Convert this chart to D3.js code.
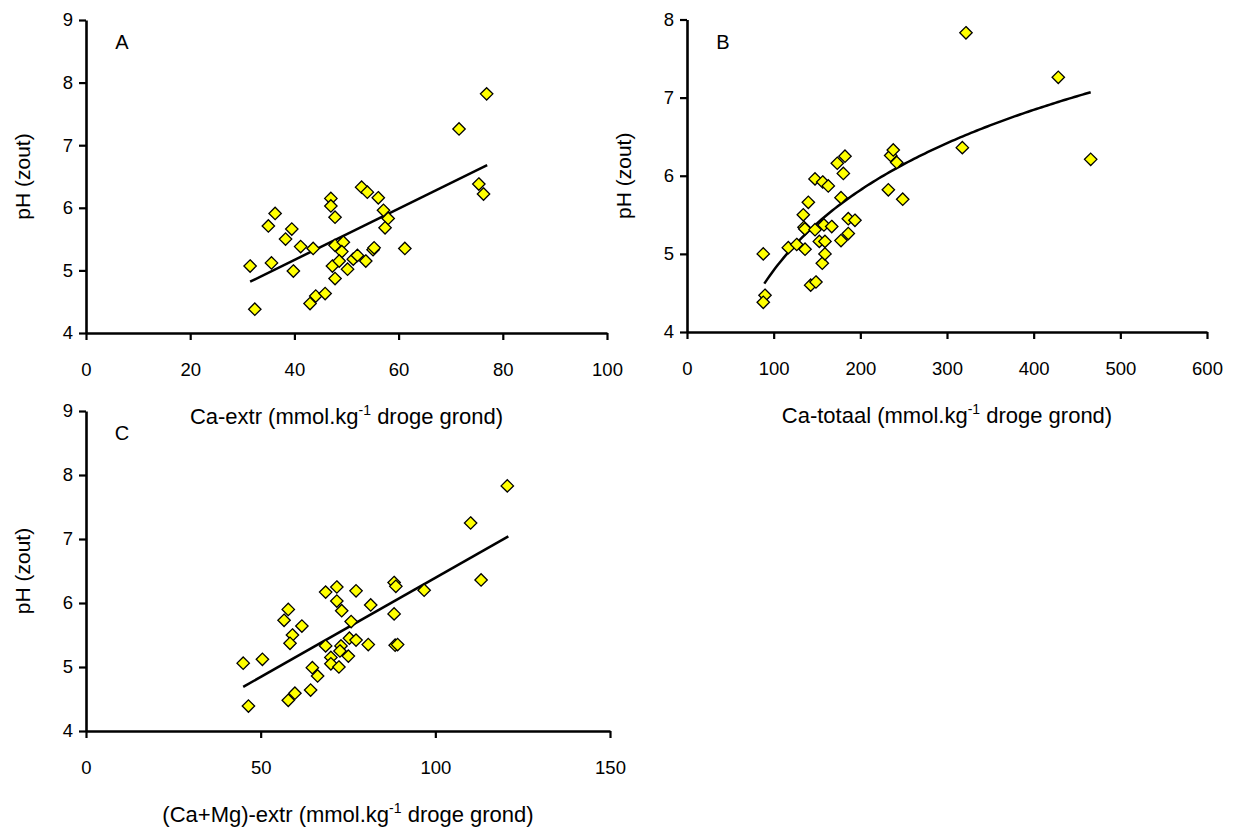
<!DOCTYPE html>
<html>
<head>
<meta charset="utf-8">
<script src="https://cdn.jsdelivr.net/npm/d3@7/dist/d3.min.js"></script>
<style>
  html, body { margin: 0; padding: 0; background: #ffffff; }
  svg { display: block; font-family: "Liberation Sans", Arial, sans-serif; }
  .axis .domain { stroke: #000; stroke-width: 2.6px; }
  .axis .tick line { stroke: #000; stroke-width: 2.2px; }
  .axis .tick text { font-size: 18.5px; fill: #000; font-family: "Liberation Sans", Arial, sans-serif; }
</style>
</head>
<body>
<svg id="chart" width="1233" height="827"></svg>
<script>
// Panel A: extractable Ca vs pH
const caExtr = [31.5, 32.4, 35.0, 36.3, 35.6, 38.3, 39.5, 39.8, 41.2, 43.6,
  43.0, 44.1, 45.9, 47.0, 47.0, 47.8, 47.8, 49.4, 49.1, 47.3,
  48.6, 47.8, 50.2, 51.3, 52.1, 53.7, 52.9, 54.0, 55.1, 55.3,
  56.1, 57.1, 58.0, 57.4, 61.2, 71.6, 76.9, 75.4, 76.3];
const phA = [5.07, 4.38, 5.71, 5.91, 5.12, 5.50, 5.66, 4.99, 5.38, 5.35,
  4.47, 4.59, 4.63, 6.15, 6.03, 5.85, 5.40, 5.45, 5.30, 5.07,
  5.15, 4.87, 5.02, 5.18, 5.24, 5.15, 6.33, 6.25, 5.33, 5.36,
  6.16, 5.96, 5.83, 5.68, 5.35, 7.26, 7.82, 6.38, 6.22];

// Panel B: total Ca vs pH
const caTotaal = [88, 90, 88, 116.9, 126.6, 136.2, 134.2, 140, 135, 136,
  147.7, 147.7, 142.7, 148.8, 156.1, 159.2, 152.7, 159.2, 158, 167,
  156.6, 163, 173.4, 182.3, 180.4, 177.7, 177.7, 186.1, 186.1, 193.8,
  232.3, 235, 238, 242, 248.9, 321.9, 317.7, 428.4, 465.8];
const phB = [5.00, 4.47, 4.38, 5.08, 5.12, 5.06, 5.50, 5.66, 5.34, 5.32,
  5.31, 5.96, 4.60, 4.64, 4.88, 5.00, 5.16, 5.16, 5.37, 5.35,
  5.92, 5.87, 6.16, 6.25, 6.03, 5.72, 5.17, 5.26, 5.45, 5.43,
  5.82, 6.26, 6.33, 6.17, 5.70, 7.83, 6.36, 7.26, 6.21];

// Panel C: extractable Ca+Mg vs pH
const caMgExtr = [45.0, 50.5, 46.5, 57.9, 56.7, 59.1, 58.4, 61.8, 57.9, 59.8,
  64.3, 64.8, 66.3, 68.6, 71.8, 71.8, 73.2, 75.9, 68.6, 77.3,
  75.4, 77.3, 73.0, 72.7, 70.1, 70.1, 72.4, 75.1, 81.5, 88.2,
  88.7, 88.2, 96.8, 80.8, 88.5, 89.2, 110.1, 120.6, 113.1];
const phC = [5.06, 5.12, 4.39, 5.90, 5.73, 5.50, 5.37, 5.64, 4.48, 4.59,
  4.64, 4.99, 4.86, 6.17, 6.25, 6.03, 5.88, 5.71, 5.33, 6.19,
  5.45, 5.42, 5.33, 5.25, 5.15, 5.05, 5.00, 5.17, 5.97, 6.32,
  6.26, 5.83, 6.20, 5.35, 5.34, 5.35, 7.25, 7.83, 6.36];

// Tick values
const ticksXA = [0, 20, 40, 60, 80, 100];
const ticksXB = [0, 100, 200, 300, 400, 500, 600];
const ticksXC = [0, 50, 100, 150];
const ticksYA = [4, 5, 6, 7, 8, 9];
const ticksYB = [4, 5, 6, 7, 8];
const ticksYC = [4, 5, 6, 7, 8, 9];

// Trend lines: linear (intercept, slope) for A and C, logarithmic (a + b·ln x) for B
const trendA = { intercept: 3.531, slope: 0.0409, from: 31.5, to: 77.0 };
const trendB = { a: -2.036, b: 1.482, from: 89.2, to: 465.8 };
const trendC = { intercept: 3.297, slope: 0.03096, from: 45.0, to: 120.9 };

const svg = d3.select("#chart");
const fmt = d3.format("d");

const panels = [
  { letter: "A", xs: caExtr, ys: phA, xDomain: [0, 100], yDomain: [4, 9],
    xTicks: ticksXA, yTicks: ticksYA, left: 86, right: 607, top: 20, bottom: 333,
    title: "Ca-extr", trend: x => trendA.intercept + trendA.slope * x,
    tFrom: trendA.from, tTo: trendA.to, linear: true },
  { letter: "B", xs: caTotaal, ys: phB, xDomain: [0, 600], yDomain: [4, 8],
    xTicks: ticksXB, yTicks: ticksYB, left: 687, right: 1207, top: 19.5, bottom: 332,
    title: "Ca-totaal", trend: x => trendB.a + trendB.b * Math.log(x),
    tFrom: trendB.from, tTo: trendB.to, linear: false },
  { letter: "C", xs: caMgExtr, ys: phC, xDomain: [0, 150], yDomain: [4, 9],
    xTicks: ticksXC, yTicks: ticksYC, left: 86, right: 610, top: 411, bottom: 731,
    title: "(Ca+Mg)-extr", trend: x => trendC.intercept + trendC.slope * x,
    tFrom: trendC.from, tTo: trendC.to, linear: true }
];

const diamond = r => `M0,${-r}L${r},0L0,${r}L${-r},0Z`;

panels.forEach(p => {
  const x = d3.scaleLinear().domain(p.xDomain).range([p.left, p.right]);
  const y = d3.scaleLinear().domain(p.yDomain).range([p.bottom, p.top]);
  const g = svg.append("g");

  // axes
  g.append("g").attr("class", "axis")
    .attr("transform", `translate(0,${p.bottom})`)
    .call(d3.axisBottom(x).tickValues(p.xTicks).tickFormat(fmt)
      .tickSize(7).tickSizeOuter(0).tickPadding(23))
    .call(a => a.selectAll(".tick text").attr("dy", "0.71em"));
  g.append("g").attr("class", "axis")
    .attr("transform", `translate(${p.left},0)`)
    .call(d3.axisLeft(y).tickValues(p.yTicks).tickFormat(fmt)
      .tickSize(7).tickSizeOuter(0).tickPadding(6));

  // trend line
  const tx = p.linear ? [p.tFrom, p.tTo]
    : d3.range(p.tFrom, p.tTo, (p.tTo - p.tFrom) / 120).concat([p.tTo]);
  g.append("path")
    .attr("d", d3.line().x(d => x(d)).y(d => y(p.trend(d)))(tx))
    .attr("fill", "none").attr("stroke", "#000").attr("stroke-width", 2.5);

  // data points
  g.append("g").selectAll("path").data(p.xs.map((v, i) => [v, p.ys[i]]))
    .join("path")
    .attr("d", diamond(6.2))
    .attr("transform", d => `translate(${x(d[0])},${y(d[1])})`)
    .attr("fill", "#ffff00").attr("stroke", "#000").attr("stroke-width", 1.3);

  // panel letter
  g.append("text").attr("x", p.left + 36).attr("y", p.top + 29)
    .attr("text-anchor", "middle").attr("font-size", 20).text(p.letter);

  // y-axis title
  g.append("text")
    .attr("transform", `translate(${p.left - 56},${(p.top + p.bottom) / 2}) rotate(-90)`)
    .attr("text-anchor", "middle").attr("font-size", 21).text("pH (zout)");

  // x-axis title with superscript
  const t = g.append("text").attr("x", (p.left + p.right) / 2).attr("y", p.bottom + 91)
    .attr("text-anchor", "middle").attr("font-size", 22);
  t.append("tspan").text(p.title + " (mmol.kg");
  t.append("tspan").attr("font-size", 14).attr("dy", -9).text("-1");
  t.append("tspan").attr("dy", 9).text(" droge grond)");
});
</script>
</body>
</html>
